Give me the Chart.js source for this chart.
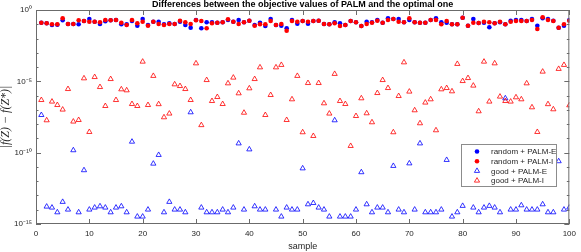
<!DOCTYPE html>
<html>
<head>
<meta charset="utf-8">
<script src="https://cdn.jsdelivr.net/npm/chart.js@4.4.0/dist/chart.umd.min.js"></script>
<style>
  html, body { margin: 0; padding: 0; background: #fff; }
  #wrap { width: 581px; height: 252px; }
</style>
</head>
<body>
<div id="wrap"><canvas id="c" width="581" height="252"></canvas></div>
<script>
// sample index 1..100
var samples = [];
for (var s = 1; s <= 100; s++) samples.push(s);

var xTicks = [0, 10, 20, 30, 40, 50, 60, 70, 80, 90, 100];
var yLabelExps = [0, -5, -10, -15];
var yTickText = ['10\u2070', '10\u207B\u2075', '10\u207B\u00B9\u2070', '10\u207B\u00B9\u2075'];

var titleText = 'Differences between the objective values of PALM and the optimal one';
var seriesNames = ['random + PALM-E', 'random + PALM-I', 'good + PALM-E', 'good + PALM-I'];

// values, as log10 of |f(Z) - f(Z*)|
// null = difference is 0, nothing drawn on a log axis
var randomPalmE = [
  -0.89, -0.93, -1.05, -1.03, -0.72, -0.98, -0.98, -1.00, -0.77, -0.63,
  -0.82, -0.98, -0.79, -0.72, -0.70, -1.00, -1.00, -0.77, -1.10, -0.63,
  -1.05, -0.82, -0.82, -1.00, -0.93, -0.98, -0.82, -1.05, -1.24, -0.70,
  -1.28, -0.86, -0.86, -0.89, -0.86, -0.70, -0.82, -0.70, -0.86, -0.75,
  -1.05, -0.89, -1.12, -0.63, -1.05, -1.10, -1.28, -0.70, -0.96, -0.77,
  -0.96, -0.77, -0.75, -0.98, -1.00, -0.86, -0.93, -1.05, -0.77, -0.86,
  -1.12, -0.82, -0.86, -0.70, -0.89, -0.58, -0.63, -0.63, -0.86, -0.70,
  -0.86, -0.89, -0.89, -0.70, -0.58, -0.86, -0.89, -1.00, -1.00, -0.54,
  -1.10, -0.63, -0.91, -0.89, -1.21, -0.93, -0.86, -1.00, -0.75, -0.70,
  -0.70, -0.77, -0.63, -1.10, -0.58, -0.63, -0.75, -1.24, -1.10, -0.70
];
var randomPalmI = [
  -0.89, -0.93, -1.00, -1.00, -0.58, -0.98, -0.98, -0.72, -0.77, -0.82,
  -0.82, -0.86, -0.70, -0.72, -0.70, -0.89, -1.05, -0.70, -0.93, -0.82,
  -1.10, -0.82, -0.98, -1.05, -0.98, -0.98, -0.75, -0.86, -0.98, -0.72,
  -0.77, -1.28, -0.93, -0.89, -0.86, -0.65, -0.82, -0.98, -0.86, -0.75,
  -1.10, -1.00, -1.00, -0.77, -1.05, -0.98, -1.45, -0.77, -0.82, -0.77,
  -0.82, -0.77, -0.75, -0.98, -1.00, -0.93, -1.12, -1.05, -0.77, -0.86,
  -1.12, -0.98, -0.89, -0.75, -0.89, -0.70, -0.63, -0.82, -0.86, -0.58,
  -0.86, -0.89, -0.89, -0.70, -0.70, -1.00, -0.77, -1.00, -1.00, -0.54,
  -1.10, -0.89, -0.91, -0.82, -0.86, -0.93, -0.82, -1.00, -0.82, -0.77,
  -0.77, -0.77, -0.70, -1.33, -0.51, -0.70, -0.77, -1.24, -1.00, -0.75
];
var goodPalmE = [
  -7.36, -13.78, -13.85, -14.18, -13.45, -13.99, -9.83, -14.18, -11.23, -13.99,
  -13.85, -13.76, -13.85, -14.18, -13.85, -13.76, -14.18, -9.23, -14.48, -14.48,
  -13.99, -10.77, -10.16, -14.18, -13.45, -13.99, -13.99, -14.18, -7.17, null,
  -13.85, -14.18, -14.18, -14.18, -13.99, -14.18, -13.85, -9.35, -13.99, -9.77,
  -13.76, -13.99, -13.99, null, -13.99, -14.48, -13.85, -13.99, -13.99, -11.10,
  -13.62, -13.53, -13.85, -13.99, -14.48, -7.73, -14.48, -14.48, -14.48, -13.99,
  -11.37, -13.62, -14.18, -13.85, -13.85, -14.18, -10.93, -13.99, -14.18, -10.75,
  -13.99, -9.35, -14.18, -14.18, -14.18, -13.99, -10.51, -14.48, -14.18, -13.73,
  null, -13.85, -14.18, -13.85, -13.73, -13.85, -14.18, -6.19, -13.99, -13.99,
  -13.69, -13.99, -13.99, -13.99, -13.62, -14.18, -14.18, -10.60, -13.99, -13.85
];
var goodPalmI = [
  -6.31, -7.73, -6.42, -6.66, -6.98, -5.54, -7.82, -7.71, -4.79, -8.55,
  -4.70, -5.40, -6.73, -4.84, -6.31, -5.56, -5.63, -6.59, -6.73, -3.62,
  -6.66, -4.62, -6.60, -7.52, -7.26, -5.21, -5.33, -5.54, -6.31, -3.74,
  -8.07, -4.91, -6.38, -6.10, -6.59, -5.14, -4.74, -5.84, -7.20, -5.49,
  -4.84, -4.02, -7.36, -5.96, -4.02, -3.85, -7.71, -6.26, -4.62, -8.57,
  -5.12, -8.83, -5.12, -6.54, -7.26, -4.48, -6.38, -6.59, -9.53, -7.43,
  -6.19, -7.24, -7.87, -5.82, -4.91, -5.47, -8.57, -6.03, -3.67, -5.72,
  -7.03, -7.94, -6.49, -6.26, -8.43, -5.56, -5.47, -5.70, -3.78, -4.98,
  -4.77, -5.30, -7.10, -3.62, -6.42, -3.74, -6.07, -6.38, -6.42, -6.12,
  -6.26, -5.14, -6.82, -8.55, -4.32, -6.60, -6.96, -4.13, -3.85, -6.68
];

var FONT = "'Liberation Sans', Arial, Helvetica, sans-serif";
var AXIS = '#6b6b6b';
var TEXT = '#262626';

function pts(logs) {
  var out = [];
  samples.forEach(function (x, i) {
    if (logs[i] !== null) out.push({ x: x, y: Math.pow(10, logs[i]) });
  });
  return out;
}

// inward ticks, box, title and legend (MATLAB look)
var matlabFrame = {
  id: 'matlabFrame',
  afterDraw: function (chart) {
    var ctx = chart.ctx, a = chart.chartArea;
    var xs = chart.scales.x, ys = chart.scales.y;
    ctx.save();
    ctx.strokeStyle = AXIS;
    ctx.lineWidth = 1;
    ctx.strokeRect(a.left + 0.5, a.top + 0.5, a.right - a.left - 1, a.bottom - a.top - 1);
    ctx.beginPath();
    xs.ticks.forEach(function (t) {
      var px = Math.round(xs.getPixelForValue(t.value)) + 0.5;
      ctx.moveTo(px, a.bottom); ctx.lineTo(px, a.bottom - 5);
      ctx.moveTo(px, a.top); ctx.lineTo(px, a.top + 5);
    });
    ys.ticks.forEach(function (t) {
      var e = Math.round(Math.log10(t.value));
      var len = (e % 5 === 0) ? 5 : 2.5;
      var py = Math.round(ys.getPixelForValue(t.value)) + 0.5;
      ctx.moveTo(a.left, py); ctx.lineTo(a.left + len, py);
      ctx.moveTo(a.right, py); ctx.lineTo(a.right - len, py);
    });
    ctx.stroke();

    // title
    ctx.fillStyle = '#000';
    ctx.font = 'bold 9px ' + FONT;
    ctx.textAlign = 'center';
    ctx.textBaseline = 'middle';
    ctx.fillText(titleText, (a.left + a.right) / 2, 5);

    // legend box
    var lx = 461, ly = 144, lw = 95, lh = 42;
    ctx.fillStyle = '#fff';
    ctx.fillRect(lx, ly, lw, lh);
    ctx.strokeStyle = '#8c8c8c';
    ctx.strokeRect(lx + 0.5, ly + 0.5, lw, lh);
    ctx.font = '8px ' + FONT;
    ctx.textAlign = 'left';
    chart.data.datasets.forEach(function (ds, i) {
      var cy = ly + 7.5 + i * 9.7, cx = lx + 16;
      ctx.beginPath();
      if (ds.pointStyle === 'circle') {
        ctx.fillStyle = ds.backgroundColor;
        ctx.arc(cx, cy, 2.3, 0, Math.PI * 2);
        ctx.fill();
      } else {
        ctx.strokeStyle = ds.borderColor;
        ctx.lineWidth = 0.8;
        ctx.moveTo(cx, cy - 3);
        ctx.lineTo(cx + 2.6, cy + 1.5);
        ctx.lineTo(cx - 2.6, cy + 1.5);
        ctx.closePath();
        ctx.stroke();
      }
      ctx.fillStyle = TEXT;
      ctx.fillText(ds.label, lx + 30, cy + 0.5);
    });
    ctx.restore();
  }
};

new Chart(document.getElementById('c'), {
  type: 'scatter',
  data: {
    datasets: [
      { label: seriesNames[0], data: pts(randomPalmE), pointStyle: 'circle', pointRadius: 2.3,
        backgroundColor: '#0000ff', borderColor: '#0000ff', borderWidth: 0, order: 4 },
      { label: seriesNames[1], data: pts(randomPalmI), pointStyle: 'circle', pointRadius: 2.3,
        backgroundColor: '#ff0000', borderColor: '#ff0000', borderWidth: 0, order: 3 },
      { label: seriesNames[2], data: pts(goodPalmE), pointStyle: 'triangle', pointRadius: 3,
        backgroundColor: 'rgba(0,0,0,0)', borderColor: '#0000ff', borderWidth: 0.8, order: 2 },
      { label: seriesNames[3], data: pts(goodPalmI), pointStyle: 'triangle', pointRadius: 3,
        backgroundColor: 'rgba(0,0,0,0)', borderColor: '#ff0000', borderWidth: 0.8, order: 1 }
    ]
  },
  options: {
    responsive: false,
    animation: false,
    layout: { padding: { top: 10, right: 8, left: 0, bottom: 0 } },
    plugins: {
      legend: { display: false },
      title: { display: false },
      tooltip: { enabled: false }
    },
    scales: {
      x: {
        type: 'linear', min: 0, max: 100,
        afterBuildTicks: function (scale) {
          scale.ticks = xTicks.map(function (v) { return { value: v }; });
        },
        afterFit: function (scale) { scale.height = 28; },
        grid: { display: false, drawTicks: false },
        border: { display: false },
        ticks: { padding: 5, color: TEXT, font: { family: FONT, size: 8 }, maxRotation: 0 },
        title: { display: true, text: 'sample', color: TEXT, padding: 0,
                 font: { family: FONT, size: 9, lineHeight: 1.2 } }
      },
      y: {
        type: 'logarithmic', min: 1e-15, max: 1,
        afterBuildTicks: function (scale) {
          var t = [];
          for (var e = 0; e >= -15; e--) t.push({ value: Math.pow(10, e) });
          scale.ticks = t;
        },
        afterFit: function (scale) { scale.width = 36; },
        grid: { display: false, drawTicks: false },
        border: { display: false },
        ticks: {
          autoSkip: false, padding: 4, color: TEXT, font: { family: FONT, size: 8 },
          callback: function (value) {
            var e = Math.round(Math.log10(value));
            var k = yLabelExps.indexOf(e);
            return k >= 0 ? yTickText[k] : '';
          }
        },
        title: { display: true, text: '|f(Z) \u2212 f(Z*)|', color: TEXT, padding: 0,
                 font: { family: "'Liberation Serif', 'DejaVu Serif', serif", size: 12, style: 'italic', lineHeight: 0.9 } }
      }
    }
  },
  plugins: [matlabFrame]
});
</script>
</body>
</html>
